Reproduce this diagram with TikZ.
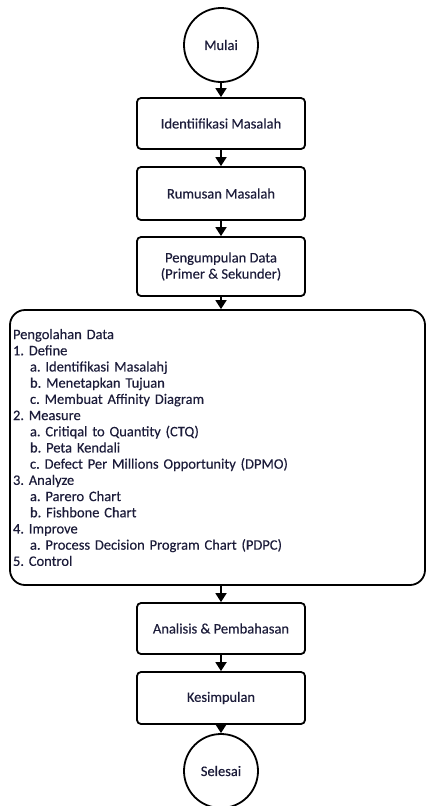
\documentclass[tikz,border=0pt]{standalone}
\usepackage{fontspec}
\setmainfont{Carlito}
\newfontfamily\inkfont{Carlito}[FakeBold=0.3]
\usetikzlibrary{arrows.meta}
\definecolor{ink}{RGB}{28,28,58}
\frenchspacing
\begin{document}
\begin{tikzpicture}[x=1pt,y=-1pt,
  every node/.style={font=\inkfont\fontsize{14.5}{16.2}\selectfont, text=ink},
  term/.style={draw, circle, line width=1.8pt, minimum size=74pt, inner sep=0pt},
  proc/.style={draw, rounded corners=4pt, line width=1.8pt, minimum width=168pt, align=center},
  flow/.style={-{Triangle[width=11pt,length=9pt]}, line width=1.8pt}
]
\useasboundingbox (0,0) rectangle (426,806);

% flow of the study
\node[term] (start) at (221,45) {Mulai};
\node[proc, minimum height=51pt] (idm) at (221,123.5) {Identiifikasi Masalah};
\node[proc, minimum height=53pt] (rum) at (221,193.5) {Rumusan Masalah};
\node[proc, minimum height=59pt] (data) at (221,266.5) {Pengumpulan Data\\(Primer \& Sekunder)};
\node[draw, rounded corners=15pt, line width=1.8pt, minimum width=415pt, minimum height=275pt,
      text width=409pt, inner xsep=3pt, align=left] (olah) at (217.5,447.5)
{Pengolahan Data\\
1. Define\\
\hspace*{17pt}a. Identifikasi Masalahj\\
\hspace*{17pt}b. Menetapkan Tujuan\\
\hspace*{17pt}c. Membuat Affinity Diagram\\
2. Measure\\
\hspace*{17pt}a. Critiqal to Quantity (CTQ)\\
\hspace*{17pt}b. Peta Kendali\\
\hspace*{17pt}c. Defect Per Millions Opportunity (DPMO)\\
3. Analyze\\
\hspace*{17pt}a. Parero Chart\\
\hspace*{17pt}b. Fishbone Chart\\
4. Improve\\
\hspace*{17pt}a. Process Decision Program Chart (PDPC)\\
5. Control};
\node[proc, minimum height=51pt] (ana) at (221,628.5) {Analisis \& Pembahasan};
\node[proc, minimum height=52pt] (kes) at (221,698) {Kesimpulan};
\node[term] (end) at (221,771) {Selesai};

% connectors
\draw[flow] (start) -- (idm);
\draw[flow] (idm) -- (rum);
\draw[flow] (rum) -- (data);
\draw[flow] (data.south) -- (data.south |- olah.north);
\draw[flow] (olah.south -| ana.north) -- (ana.north);
\draw[flow] (ana) -- (kes);
\draw[flow] (kes) -- (end);
\end{tikzpicture}
\end{document}
